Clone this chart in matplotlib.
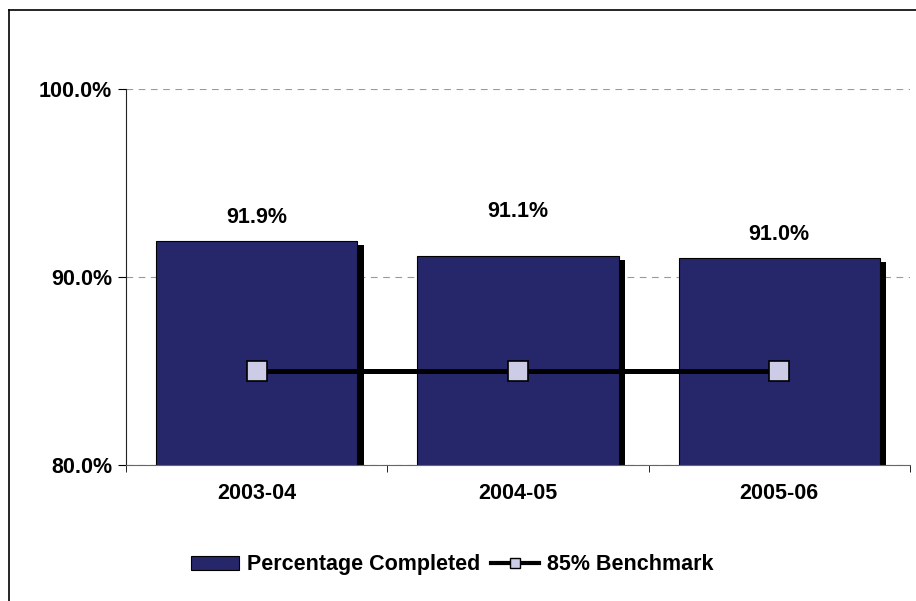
import matplotlib.pyplot as plt
import matplotlib.patheffects as pe
from matplotlib.lines import Line2D
from matplotlib.patches import Patch
from matplotlib.ticker import FuncFormatter, FixedLocator

plt.rcParams['font.family'] = ['Liberation Sans', 'DejaVu Sans']
plt.rcParams['font.weight'] = 'bold'

# data
years = ['2003-04', '2004-05', '2005-06']
completed = [91.9, 91.1, 91.0]
benchmark = [85, 85, 85]
label_lift = [1.25, 2.4, 1.25]   # Excel placed the labels a bit unevenly

bar_color = '#26266b'
marker_color = '#ccccE6'

fig = plt.figure(figsize=(9.16, 6.01), dpi=100)
ax = fig.add_axes([0.1376, 0.2263, 0.8558, 0.6256])

x = range(len(years))
bars = ax.bar(x, completed, width=0.77, color=bar_color, edgecolor='black',
              linewidth=0.8, zorder=2)
for b in bars:
    b.set_path_effects([pe.SimplePatchShadow(offset=(4.5, -3), shadow_rgbFace='black', alpha=1),
                        pe.Normal()])

ax.plot(x, benchmark, color='black', lw=3.6, marker='s', markersize=15,
        markerfacecolor=marker_color, markeredgecolor='black', markeredgewidth=1.2,
        zorder=3)

for i, v in enumerate(completed):
    ax.text(i, v + label_lift[i], f'{v:.1f}%', ha='center', va='center', fontsize=15.5, fontweight='bold')

ax.set_xlim(-0.5, 2.5)
ax.set_ylim(80, 100)
ax.yaxis.set_major_locator(FixedLocator([80, 90, 100]))
ax.yaxis.set_major_formatter(FuncFormatter(lambda v, p: f'{v:.1f}%'))
ax.set_xticks(list(x))
ax.set_xticklabels(years)
ax.xaxis.set_minor_locator(FixedLocator([-0.5, 0.5, 1.5, 2.5]))
ax.tick_params(axis='x', which='major', length=0, pad=13, labelsize=15.5)
ax.tick_params(axis='x', which='minor', length=5, direction='out')
ax.tick_params(axis='y', length=6, direction='out', pad=4, labelsize=15.5)

ax.grid(axis='y', linestyle=(0, (6, 5)), color='#999999', lw=0.8, zorder=0)
ax.set_axisbelow(True)
for s in ['top', 'right']:
    ax.spines[s].set_visible(False)
ax.spines['left'].set_color('#222222')
ax.spines['bottom'].set_color('#666666')

# outer chart frame
fig.add_artist(Line2D([0.0098, 1.0], [0.983, 0.983], color='black', lw=1.2))
fig.add_artist(Line2D([0.0098, 0.0098], [0.0, 0.983], color='black', lw=1.2))

handles = [Patch(facecolor=bar_color, edgecolor='black', linewidth=0.8),
           Line2D([], [], color='black', lw=3, marker='s', markersize=7,
                  markerfacecolor=marker_color, markeredgecolor='black', markeredgewidth=1)]
fig.legend(handles, ['Percentage Completed', '85% Benchmark'], loc='center',
           bbox_to_anchor=(0.494, 0.06), ncol=2, frameon=False, fontsize=15.5,
           handlelength=2.2, handleheight=0.6, handletextpad=0.4, columnspacing=0.5)

fig.savefig('out.png', dpi=100)
